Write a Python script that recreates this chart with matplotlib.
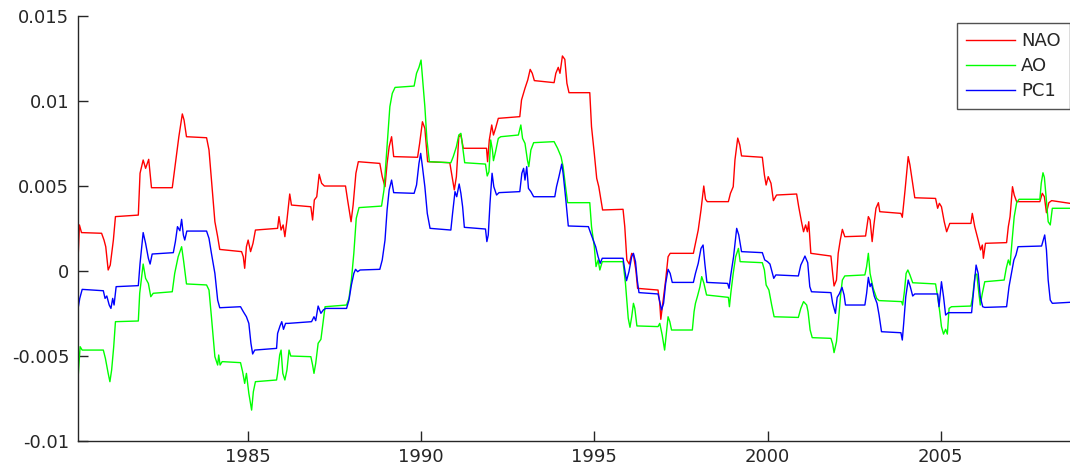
"""Three running index series (NAO, AO, PC1) drawn MATLAB-style:
thin pure-colour lines, inward ticks, box off, legend in the top right.
"""

import matplotlib
matplotlib.use("Agg")
import matplotlib.pyplot as plt
import numpy as np
from matplotlib.ticker import FuncFormatter

# (decimal year, value in units of 1e-3)
nao_points = [
    (1980.11, 1.12), (1980.14, 2.69), (1980.20, 2.24), (1980.78, 2.20), (1980.85, 1.80),
    (1980.90, 1.41), (1980.97, 0.04), (1981.03, 0.33), (1981.12, 1.80), (1981.18, 3.18),
    (1981.84, 3.27), (1981.89, 5.73), (1981.98, 6.51), (1982.05, 6.02), (1982.14, 6.55),
    (1982.22, 4.88), (1982.82, 4.88), (1982.91, 6.31), (1983.01, 7.88), (1983.11, 9.22),
    (1983.16, 8.86), (1983.23, 7.88), (1983.81, 7.82), (1983.88, 7.10), (1983.95, 5.33),
    (1984.05, 2.88), (1984.13, 2.00), (1984.19, 1.25), (1984.82, 1.12), (1984.87, 0.82),
    (1984.91, 0.14), (1984.96, 1.41), (1985.01, 1.80), (1985.08, 1.12), (1985.15, 1.61),
    (1985.22, 2.39), (1985.86, 2.49), (1985.90, 3.18), (1985.96, 2.39), (1986.02, 2.69),
    (1986.07, 2.00), (1986.13, 2.98), (1986.21, 4.51), (1986.26, 3.86), (1986.82, 3.76),
    (1986.87, 2.98), (1986.92, 4.16), (1986.99, 4.35), (1987.06, 5.67), (1987.13, 5.14),
    (1987.21, 4.98), (1987.82, 4.98), (1987.88, 4.16), (1987.98, 2.88), (1988.04, 3.86),
    (1988.12, 5.73), (1988.19, 6.41), (1988.81, 6.31), (1988.88, 5.53), (1988.96, 4.94),
    (1989.02, 6.31), (1989.08, 7.29), (1989.15, 7.88), (1989.21, 6.71), (1989.90, 6.67),
    (1989.96, 7.49), (1990.04, 8.76), (1990.11, 8.37), (1990.19, 6.41), (1990.83, 6.35),
    (1990.88, 5.73), (1990.96, 4.75), (1991.02, 5.53), (1991.09, 7.88), (1991.15, 7.98),
    (1991.22, 7.20), (1991.89, 7.20), (1991.92, 6.41), (1991.97, 7.69), (1992.04, 8.57),
    (1992.09, 7.98), (1992.15, 8.37), (1992.23, 8.96), (1992.85, 9.06), (1992.90, 10.04),
    (1993.00, 10.73), (1993.08, 11.22), (1993.15, 11.84), (1993.21, 11.61), (1993.27, 11.18),
    (1993.84, 11.06), (1993.89, 11.61), (1993.96, 11.96), (1994.01, 11.61), (1994.08, 12.63),
    (1994.15, 12.43), (1994.21, 11.02), (1994.27, 10.47), (1994.87, 10.47), (1994.92, 8.47),
    (1995.00, 6.90), (1995.07, 5.43), (1995.13, 4.94), (1995.24, 3.57), (1995.83, 3.61),
    (1995.88, 2.59), (1995.94, 0.63), (1996.01, 0.39), (1996.08, 1.02), (1996.13, 0.92),
    (1996.20, 0.04), (1996.25, -1.04), (1996.84, -1.14), (1996.89, -1.92), (1996.92, -2.86),
    (1996.99, -1.73), (1997.06, -0.55), (1997.13, 0.82), (1997.19, 1.02), (1997.86, 1.02),
    (1997.92, 1.61), (1998.00, 2.39), (1998.08, 3.57), (1998.16, 4.98), (1998.21, 4.20),
    (1998.26, 4.06), (1998.87, 4.06), (1998.93, 4.55), (1999.01, 4.94), (1999.06, 6.51),
    (1999.14, 7.80), (1999.20, 7.39), (1999.25, 6.75), (1999.85, 6.67), (1999.91, 5.63),
    (1999.96, 5.04), (2000.02, 5.53), (2000.10, 5.14), (2000.17, 4.12), (2000.26, 4.45),
    (2000.84, 4.51), (2000.90, 3.76), (2000.98, 2.88), (2001.04, 2.29), (2001.10, 2.69),
    (2001.15, 2.29), (2001.19, 2.88), (2001.25, 1.02), (2001.83, 0.86), (2001.88, -0.16),
    (2001.92, -0.90), (2001.99, -0.55), (2002.04, 1.02), (2002.10, 1.80), (2002.16, 2.43),
    (2002.23, 2.00), (2002.83, 2.04), (2002.91, 3.18), (2002.96, 2.98), (2003.02, 1.71),
    (2003.07, 2.69), (2003.13, 3.67), (2003.20, 4.00), (2003.24, 3.47), (2003.85, 3.37),
    (2003.89, 3.14), (2003.97, 4.75), (2004.06, 6.71), (2004.11, 6.22), (2004.18, 5.24),
    (2004.25, 4.29), (2004.85, 4.25), (2004.91, 3.67), (2004.96, 3.96), (2005.02, 3.76),
    (2005.10, 2.88), (2005.17, 2.29), (2005.26, 2.78), (2005.87, 2.78), (2005.91, 3.37),
    (2005.98, 2.59), (2006.08, 1.80), (2006.15, 1.22), (2006.20, 1.51), (2006.23, 0.73),
    (2006.29, 1.61), (2006.90, 1.65), (2006.95, 2.59), (2007.00, 3.18), (2007.07, 4.94),
    (2007.12, 4.45), (2007.19, 4.06), (2007.86, 4.06), (2007.93, 4.55), (2007.99, 4.35),
    (2008.05, 3.41), (2008.12, 4.00), (2008.20, 4.12), (2008.73, 3.96),
]

ao_points = [
    (1980.11, -6.04), (1980.16, -4.47), (1980.22, -4.67), (1980.83, -4.67), (1980.89, -5.16),
    (1980.97, -6.04), (1981.02, -6.53), (1981.07, -5.84), (1981.13, -4.47), (1981.18, -3.00),
    (1981.84, -2.96), (1981.88, -1.33), (1981.98, 0.39), (1982.05, -0.45), (1982.13, -0.75),
    (1982.20, -1.53), (1982.27, -1.33), (1982.82, -1.24), (1982.89, -0.16), (1982.99, 0.82),
    (1983.09, 1.41), (1983.15, 0.53), (1983.23, -0.78), (1983.81, -0.84), (1983.88, -1.14),
    (1983.95, -2.71), (1984.05, -5.06), (1984.13, -5.55), (1984.16, -4.96), (1984.20, -5.55),
    (1984.26, -5.35), (1984.79, -5.41), (1984.85, -5.94), (1984.91, -6.63), (1984.96, -6.04),
    (1985.03, -7.22), (1985.11, -8.20), (1985.16, -7.12), (1985.22, -6.53), (1985.83, -6.43),
    (1985.86, -6.04), (1985.92, -4.96), (1985.96, -4.67), (1986.01, -6.04), (1986.07, -6.43),
    (1986.13, -5.84), (1986.19, -4.67), (1986.24, -5.02), (1986.82, -5.06), (1986.87, -5.55),
    (1986.91, -6.04), (1986.96, -5.45), (1987.03, -4.27), (1987.11, -4.04), (1987.18, -2.90),
    (1987.23, -2.12), (1987.85, -2.02), (1987.92, -1.63), (1987.99, -0.55), (1988.06, 1.02),
    (1988.13, 3.08), (1988.21, 3.71), (1988.86, 3.80), (1988.93, 4.75), (1989.01, 7.10),
    (1989.10, 9.65), (1989.17, 10.43), (1989.25, 10.78), (1989.80, 10.86), (1989.87, 11.61),
    (1989.94, 11.96), (1990.00, 12.39), (1990.04, 11.41), (1990.11, 9.65), (1990.17, 7.69),
    (1990.24, 6.41), (1990.86, 6.35), (1990.93, 6.71), (1991.02, 7.29), (1991.09, 7.98),
    (1991.15, 8.08), (1991.20, 7.29), (1991.26, 6.35), (1991.86, 6.27), (1991.91, 5.57),
    (1991.96, 5.82), (1992.01, 7.69), (1992.06, 7.10), (1992.09, 6.47), (1992.15, 7.00),
    (1992.23, 7.78), (1992.30, 7.88), (1992.81, 7.98), (1992.88, 8.57), (1992.93, 7.78),
    (1993.00, 7.49), (1993.07, 6.51), (1993.11, 6.12), (1993.17, 7.10), (1993.25, 7.53),
    (1993.84, 7.59), (1993.94, 7.20), (1994.04, 6.71), (1994.10, 6.12), (1994.17, 4.94),
    (1994.23, 4.00), (1994.87, 4.00), (1994.92, 2.59), (1995.00, 1.41), (1995.05, 0.24),
    (1995.11, 0.63), (1995.16, 0.04), (1995.23, 0.53), (1995.83, 0.53), (1995.90, -0.75),
    (1995.98, -2.80), (1996.03, -3.33), (1996.08, -2.71), (1996.13, -1.92), (1996.17, -2.22),
    (1996.23, -3.25), (1996.84, -3.29), (1996.89, -3.10), (1996.96, -3.78), (1997.03, -4.67),
    (1997.08, -3.69), (1997.13, -2.71), (1997.18, -3.00), (1997.23, -3.49), (1997.83, -3.49),
    (1997.88, -2.41), (1997.92, -1.92), (1997.98, -1.49), (1998.05, -0.94), (1998.10, -0.35),
    (1998.16, -0.71), (1998.24, -1.43), (1998.87, -1.57), (1998.90, -2.12), (1998.94, -1.33),
    (1999.01, -0.16), (1999.08, 0.82), (1999.16, 1.31), (1999.21, 0.53), (1999.85, 0.47),
    (1999.91, 0.04), (1999.96, -0.84), (2000.04, -1.14), (2000.12, -2.02), (2000.19, -2.71),
    (2000.89, -2.75), (2000.96, -2.22), (2001.04, -1.82), (2001.13, -2.02), (2001.17, -2.41),
    (2001.23, -3.49), (2001.29, -3.94), (2001.83, -3.98), (2001.88, -4.31), (2001.92, -4.82),
    (2001.99, -4.18), (2002.04, -3.10), (2002.11, -1.43), (2002.16, -0.55), (2002.23, -0.31),
    (2002.81, -0.25), (2002.86, 0.24), (2002.91, 1.02), (2002.96, -0.16), (2003.05, -1.04),
    (2003.15, -1.63), (2003.22, -1.76), (2003.87, -1.82), (2003.90, -2.02), (2003.95, -1.24),
    (2004.00, -0.16), (2004.05, 0.04), (2004.11, -0.25), (2004.19, -0.71), (2004.85, -0.78),
    (2004.91, -1.53), (2004.97, -2.41), (2005.02, -3.29), (2005.08, -3.73), (2005.14, -3.45),
    (2005.19, -3.73), (2005.24, -2.22), (2005.31, -2.12), (2005.87, -2.08), (2005.92, -1.53),
    (2005.99, -0.25), (2006.04, -0.20), (2006.10, -1.33), (2006.14, -2.02), (2006.20, -1.33),
    (2006.27, -0.65), (2006.83, -0.55), (2006.89, 0.14), (2006.95, 0.63), (2007.00, 0.33),
    (2007.06, 1.80), (2007.12, 3.18), (2007.19, 4.00), (2007.26, 4.20), (2007.86, 4.20),
    (2007.90, 5.14), (2007.95, 5.76), (2007.99, 5.49), (2008.04, 4.35), (2008.10, 2.88),
    (2008.16, 2.69), (2008.22, 3.67), (2008.73, 3.67),
]

pc1_points = [
    (1980.11, -2.12), (1980.15, -1.63), (1980.22, -1.10), (1980.83, -1.18), (1980.88, -1.63),
    (1980.93, -1.49), (1981.00, -2.02), (1981.05, -2.22), (1981.10, -1.63), (1981.14, -2.02),
    (1981.20, -0.94), (1981.84, -0.88), (1981.89, 0.43), (1981.98, 2.24), (1982.05, 1.61),
    (1982.13, 0.73), (1982.18, 0.39), (1982.24, 0.98), (1982.85, 1.06), (1982.91, 1.71),
    (1982.97, 2.59), (1983.04, 2.35), (1983.09, 3.02), (1983.14, 2.10), (1983.18, 1.80),
    (1983.24, 2.33), (1983.81, 2.33), (1983.88, 1.90), (1983.95, 1.02), (1984.05, -0.16),
    (1984.13, -1.73), (1984.19, -2.18), (1984.79, -2.12), (1984.87, -2.41), (1984.96, -2.71),
    (1985.03, -3.10), (1985.09, -4.27), (1985.14, -4.90), (1985.20, -4.67), (1985.83, -4.57),
    (1985.86, -3.69), (1985.93, -3.25), (1985.98, -3.00), (1986.03, -3.45), (1986.09, -3.10),
    (1986.17, -3.10), (1986.84, -3.00), (1986.91, -2.71), (1986.96, -2.94), (1987.03, -2.08),
    (1987.11, -2.51), (1987.18, -2.31), (1987.25, -2.22), (1987.85, -2.22), (1987.92, -1.73),
    (1987.99, -0.84), (1988.06, -0.16), (1988.11, 0.08), (1988.17, -0.06), (1988.24, 0.04),
    (1988.81, 0.08), (1988.88, 0.63), (1988.96, 1.80), (1989.02, 3.57), (1989.08, 4.75),
    (1989.15, 5.33), (1989.21, 4.59), (1989.80, 4.55), (1989.87, 5.04), (1989.94, 6.31),
    (1989.99, 6.90), (1990.04, 6.12), (1990.11, 4.94), (1990.18, 3.37), (1990.26, 2.49),
    (1990.86, 2.39), (1990.91, 3.37), (1990.98, 4.65), (1991.03, 4.35), (1991.10, 5.10),
    (1991.15, 4.55), (1991.20, 3.76), (1991.25, 2.55), (1991.86, 2.45), (1991.90, 1.71),
    (1991.94, 2.10), (1991.99, 3.96), (1992.05, 5.73), (1992.10, 4.94), (1992.18, 4.45),
    (1992.25, 4.59), (1992.85, 4.65), (1992.91, 5.73), (1992.96, 6.02), (1993.00, 5.33),
    (1993.05, 6.12), (1993.10, 4.84), (1993.17, 4.65), (1993.25, 4.35), (1993.86, 4.35),
    (1993.91, 4.94), (1993.98, 5.53), (1994.06, 6.27), (1994.10, 5.73), (1994.17, 4.35),
    (1994.25, 2.63), (1994.83, 2.59), (1994.89, 2.24), (1994.97, 1.80), (1995.04, 1.41),
    (1995.11, 0.82), (1995.17, 0.43), (1995.23, 0.73), (1995.83, 0.73), (1995.88, 0.04),
    (1995.93, -0.59), (1996.00, -0.06), (1996.08, 0.82), (1996.13, 1.02), (1996.19, 0.53),
    (1996.24, -0.55), (1996.29, -1.29), (1996.84, -1.37), (1996.89, -1.82), (1996.94, -2.31),
    (1997.00, -1.92), (1997.06, -0.75), (1997.13, 0.08), (1997.19, -0.16), (1997.25, -0.69),
    (1997.86, -0.69), (1997.92, -0.16), (1998.00, 0.43), (1998.08, 1.31), (1998.14, 1.51),
    (1998.19, 0.43), (1998.25, -0.69), (1998.85, -0.75), (1998.89, -1.04), (1998.94, -0.25),
    (1999.02, 0.82), (1999.11, 2.49), (1999.17, 2.10), (1999.25, 1.12), (1999.85, 1.06),
    (1999.92, 0.63), (2000.00, 0.53), (2000.07, 0.39), (2000.14, -0.16), (2000.18, -0.45),
    (2000.24, -0.25), (2000.89, -0.31), (2000.96, 0.33), (2001.03, 0.63), (2001.08, 0.86),
    (2001.16, 0.47), (2001.22, -0.94), (2001.27, -1.24), (2001.83, -1.29), (2001.88, -1.92),
    (2001.96, -2.51), (2002.01, -1.57), (2002.07, -1.37), (2002.15, -0.98), (2002.21, -1.43),
    (2002.25, -2.02), (2002.81, -2.02), (2002.86, -1.33), (2002.91, -0.39), (2002.96, -0.94),
    (2003.00, -0.75), (2003.08, -1.49), (2003.16, -1.92), (2003.22, -2.61), (2003.29, -3.59),
    (2003.85, -3.65), (2003.89, -4.08), (2003.93, -3.10), (2003.99, -1.53), (2004.06, -0.55),
    (2004.12, -0.94), (2004.19, -1.49), (2004.25, -1.37), (2004.91, -1.37), (2004.95, -2.12),
    (2005.02, -0.65), (2005.08, -1.53), (2005.14, -2.61), (2005.22, -2.47), (2005.89, -2.47),
    (2005.95, -1.14), (2006.02, 0.33), (2006.08, -0.16), (2006.14, -1.53), (2006.21, -2.12),
    (2006.27, -2.16), (2006.90, -2.12), (2006.97, -0.94), (2007.04, -0.16), (2007.11, 0.63),
    (2007.17, 0.92), (2007.23, 1.41), (2007.91, 1.45), (2007.96, 1.80), (2008.00, 2.10),
    (2008.05, 1.22), (2008.10, -0.55), (2008.16, -1.73), (2008.22, -1.92), (2008.73, -1.86),
]

series_names = ["NAO", "AO", "PC1"]
series_colors = ["#ff0000", "#00ff00", "#0000ff"]
x_ticks = [1985, 1990, 1995, 2000, 2005]
y_ticks = [-0.01, -0.005, 0, 0.005, 0.01, 0.015]

INK = "#262626"


def split(points):
    """Turn a list of (year, milli-value) pairs into x and y arrays."""
    arr = np.array(points)
    return arr[:, 0], arr[:, 1] * 1e-3


def build_figure():
    fig = plt.figure(figsize=(10.7, 4.65), dpi=100)
    # axes fill the picture to the right edge, like the cropped original
    ax = fig.add_axes([0.0726, 0.0523, 0.9274, 0.914])

    for pts, name, color in zip([nao_points, ao_points, pc1_points],
                                series_names, series_colors):
        x, y = split(pts)
        ax.plot(x, y, color=color, linewidth=1.0, label=name)

    ax.set_xlim(1980.09, 2008.73)
    ax.set_ylim(-0.01, 0.015)
    ax.set_xticks(x_ticks)
    ax.set_yticks(y_ticks)
    ax.yaxis.set_major_formatter(FuncFormatter(lambda v, _: f"{v:g}"))

    # MATLAB look: box off, ticks pointing inward
    for side in ("top", "right"):
        ax.spines[side].set_visible(False)
    for side in ("left", "bottom"):
        ax.spines[side].set_color(INK)
        ax.spines[side].set_linewidth(1.0)
    ax.tick_params(direction="in", length=7, width=1.0, color=INK,
                   labelcolor=INK, labelsize=13)
    ax.tick_params(axis="y", pad=6)
    ax.tick_params(axis="x", pad=5)

    leg = ax.legend(loc="upper right", bbox_to_anchor=(1.0, 0.983),
                    borderaxespad=0, fontsize=13, frameon=True, fancybox=False,
                    handlelength=2.7, handletextpad=0.35, labelspacing=0.4,
                    borderpad=0.5)
    leg.get_frame().set_edgecolor(INK)
    leg.get_frame().set_linewidth(1.0)
    for text in leg.get_texts():
        text.set_color(INK)
    return fig


def main():
    fig = build_figure()
    fig.savefig("out.png", dpi=100)
    plt.close(fig)


if __name__ == "__main__":
    main()
